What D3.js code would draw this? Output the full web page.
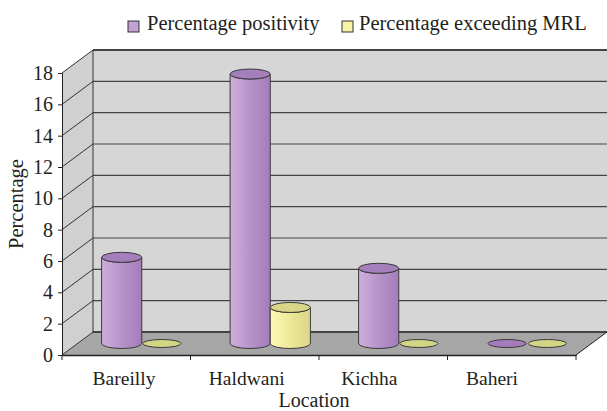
<!DOCTYPE html>
<html><head><meta charset="utf-8">
<script src="https://cdn.jsdelivr.net/npm/d3@7"></script>
<style>body{margin:0;background:#fff}svg{display:block}text{font-family:"Liberation Serif","DejaVu Serif",serif;fill:#231f20}</style>
</head><body>
<script>
const categories = ["Bareilly", "Haldwani", "Kichha", "Baheri"];
const seriesNames = ["Percentage positivity", "Percentage exceeding MRL"];
const positivity = [5.5, 17.2, 4.8, 0];
const exceedingMRL = [0, 2.3, 0, 0];
const yTicks = [0, 2, 4, 6, 8, 10, 12, 14, 16, 18];

const W = 607, H = 411;
const svg = d3.select("body").append("svg").attr("width", W).attr("height", H);
const defs = svg.append("defs");

const x0 = 62, x1 = 576, dx = 31, dy = -23;
const x = d3.scaleBand().domain(categories).range([x0, x1]);
const y = d3.scaleLinear().domain([0, 18]).range([355, 73]);
const xs = d3.scaleBand().domain(seriesNames).range([0, x.bandwidth()]).paddingOuter(0.6);
const xLab = d3.scalePoint().domain(categories).range([124, 492]);

const styles = [
  {stops: ["#cdaedc", "#c3a1d3", "#b593c9", "#ad89c2", "#a47bba"], top: "#a57fbb", flat: "#a47cbc"},
  {stops: ["#fbf8b4", "#f6f2a6", "#ede89a", "#e4de8e", "#dcd588"], top: "#d9d687", flat: "#d4d486"}
];
styles.forEach((s, i) => {
  const g = defs.append("linearGradient").attr("id", "g" + i).attr("x1", 0).attr("x2", 1).attr("y1", 0).attr("y2", 0);
  s.stops.forEach((c, k) => g.append("stop").attr("offset", k / (s.stops.length - 1)).attr("stop-color", c));
});

// walls
const y0 = y(0), yT = y(18);
svg.append("polygon").attr("points", [[x0, y0], [x0, yT], [x0 + dx, yT + dy], [x0 + dx, y0 + dy]].join(" ")).attr("fill", "#d0d0d1");
svg.append("polygon").attr("points", [[x0 + dx, yT + dy], [W + 5, yT + dy], [W + 5, y0 + dy], [x0 + dx, y0 + dy]].join(" ")).attr("fill", "#d6d6d7");
svg.append("polygon").attr("points", [[x0, y0], [x1, y0], [x1 + dx, y0 + dy], [x0 + dx, y0 + dy]].join(" ")).attr("fill", "#a6a6a7");

// gridlines
yTicks.forEach(t => {
  const yy = y(t);
  svg.append("line").attr("x1", x0).attr("y1", yy).attr("x2", x0 + dx).attr("y2", yy + dy).attr("stroke", "#333").attr("stroke-width", 1);
  svg.append("line").attr("x1", x0 + dx).attr("y1", yy + dy).attr("x2", W + 5).attr("y2", yy + dy)
    .attr("stroke", "#444").attr("stroke-width", t === 0 || t === 18 ? 2 : 1.2);
});
svg.append("line").attr("x1", x0 + dx).attr("y1", yT + dy).attr("x2", x0 + dx).attr("y2", y0 + dy).attr("stroke", "#333");
svg.append("line").attr("x1", x1).attr("y1", y0).attr("x2", x1 + dx).attr("y2", y0 + dy).attr("stroke", "#222");

// y axis
const yAxis = svg.append("g").attr("transform", `translate(${x0},0)`)
  .call(d3.axisLeft(y).tickValues(yTicks).tickSize(4).tickPadding(5));
yAxis.select(".domain").attr("stroke", "#222");
yAxis.selectAll(".tick line").attr("stroke", "#222");
yAxis.selectAll("text").style("font-size", "20px").attr("fill", "#231f20").style("font-family", "Liberation Serif");

// x axis
const xAxis = svg.append("g").attr("transform", `translate(0,${y0})`)
  .call(d3.axisBottom(x).tickSize(0).tickFormat(""));
xAxis.select(".domain").attr("stroke", "#222").attr("stroke-width", 1.5);
xAxis.selectAll(".tick").remove();
const bounds = categories.map(c => x(c)).concat([x1]);
svg.selectAll(".xt").data(bounds).enter().append("line")
  .attr("x1", d => d).attr("x2", d => d).attr("y1", y0).attr("y2", y0 + 5).attr("stroke", "#222");
svg.selectAll(".xl").data(categories).enter().append("text")
  .attr("x", d => xLab(d)).attr("y", 385).attr("text-anchor", "middle").style("font-size", "19.5px").text(d => d);

// cylinders
const rx = xs.bandwidth() / 2, ry = 5;
const data = [];
categories.forEach((c, i) => {
  [positivity[i], exceedingMRL[i]].forEach((v, s) => data.push({c, s, v}));
});
data.forEach(d => {
  const left = x(d.c) + xs(seriesNames[d.s]) + dx / 2;
  const right = left + xs.bandwidth();
  const cx = (left + right) / 2;
  const yb = y(0) + dy / 2, yt = y(d.v) + dy / 2;
  const st = styles[d.s];
  const g = svg.append("g");
  if (d.v > 0) {
    g.append("path")
      .attr("d", `M${left},${yt} L${left},${yb} A${rx},${ry} 0 0 0 ${right},${yb} L${right},${yt} A${rx},${ry} 0 0 1 ${left},${yt} Z`)
      .attr("fill", `url(#g${d.s})`).attr("stroke", "#3a3a3a").attr("stroke-width", 1);
    g.append("ellipse").attr("cx", cx).attr("cy", yt).attr("rx", rx).attr("ry", ry)
      .attr("fill", st.top).attr("stroke", "#3a3a3a").attr("stroke-width", 1);
  } else {
    g.append("ellipse").attr("cx", cx).attr("cy", yt).attr("rx", rx * 0.95).attr("ry", ry * 0.8)
      .attr("fill", st.flat).attr("stroke", "#3a3a3a").attr("stroke-width", 1);
  }
});

// axis titles
svg.append("text").attr("transform", `translate(23,204) rotate(-90)`)
  .attr("text-anchor", "middle").style("font-size", "20.5px").text("Percentage");
svg.append("text").attr("x", 314).attr("y", 407).attr("text-anchor", "middle").style("font-size", "20px").text("Location");

// legend
const leg = [{x: 128, tx: 147}, {x: 342, tx: 359}];
seriesNames.forEach((n, i) => {
  svg.append("rect").attr("x", leg[i].x).attr("y", 21).attr("width", 11).attr("height", 11)
    .attr("fill", styles[i].stops[1]).attr("stroke", "#333").attr("stroke-width", 1);
  svg.append("text").attr("x", leg[i].tx).attr("y", 30).style("font-size", "20.5px").text(n);
});
</script>
</body></html>
